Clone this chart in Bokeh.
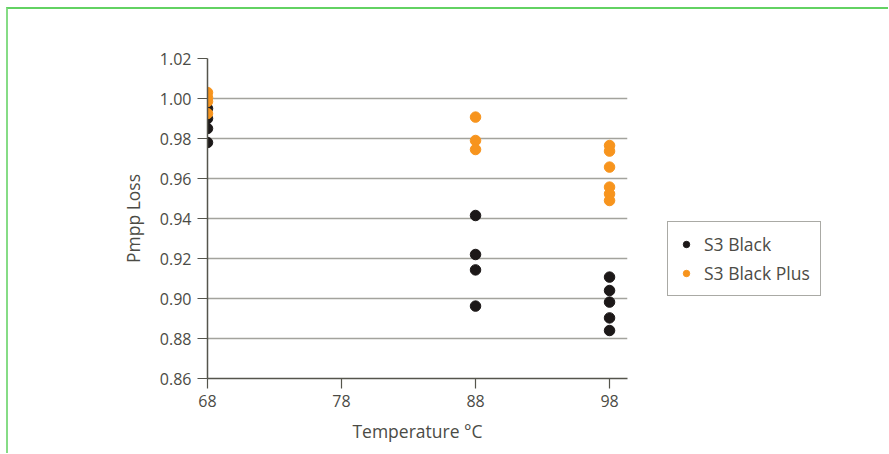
from bokeh.plotting import figure
from bokeh.layouts import row
from bokeh.models import Range1d, FixedTicker, PrintfTickFormatter, Legend, LegendItem
from bokeh.embed import file_html
from bokeh.resources import INLINE

# Data
x_ticks = [68, 78, 88, 98]
y_ticks = [0.86, 0.88, 0.90, 0.92, 0.94, 0.96, 0.98, 1.00, 1.02]

black_x = [68, 68, 68, 68, 88, 88, 88, 88, 98, 98, 98, 98, 98]
black_y = [0.995, 0.990, 0.985, 0.978, 0.9415, 0.922, 0.9143, 0.8962, 0.9107, 0.904, 0.8982, 0.8903, 0.884]

plus_x = [68, 68, 68, 68, 88, 88, 88, 98, 98, 98, 98, 98, 98]
plus_y = [1.003, 1.0005, 0.9985, 0.9925, 0.9907, 0.979, 0.9745, 0.9765, 0.9737, 0.9657, 0.9557, 0.9523, 0.949]

series_names = ["S3 Black", "S3 Black Plus"]
series_colors = ["#1c1818", "#f7941d"]

FONT = "Open Sans"
TXT = "#4b4b45"
AXIS = "#55554c"

p = figure(width=629, height=444, output_backend="svg", toolbar_location=None,
           x_range=Range1d(68, 99.34), y_range=Range1d(0.86, 1.02),
           min_border_left=199, min_border_top=49, min_border_right=10, min_border_bottom=75)
p.outline_line_color = None
p.background_fill_color = "white"

p.scatter(black_x, black_y, size=10.5, color=series_colors[0])
p.scatter(plus_x, plus_y, size=10.5, color=series_colors[1])

p.xaxis.ticker = FixedTicker(ticks=x_ticks)
p.yaxis.ticker = FixedTicker(ticks=y_ticks)
p.yaxis.formatter = PrintfTickFormatter(format="%.2f")
p.xgrid.visible = False
p.ygrid.grid_line_color = "#a3a39d"
p.ygrid.grid_line_width = 1.5

for ax in (p.xaxis, p.yaxis):
    ax.axis_line_color = AXIS
    ax.axis_line_width = 1.5
    ax.major_tick_line_color = AXIS
    ax.major_tick_line_width = 1.2
    ax.major_tick_out = 10
    ax.major_tick_in = 0
    ax.minor_tick_line_color = None
    ax.major_label_text_font = FONT
    ax.major_label_text_font_size = "16px"
    ax.major_label_text_color = TXT
    ax.axis_label_text_font = FONT
    ax.axis_label_text_font_size = "17.5px"
    ax.axis_label_text_color = TXT
    ax.axis_label_text_font_style = "normal"

p.xaxis.axis_label = "Temperature °C"
p.yaxis.axis_label = "Pmpp Loss"
p.xaxis.major_label_standoff = 6
p.yaxis.major_label_standoff = 6
p.xaxis.axis_label_standoff = 9
p.yaxis.axis_label_standoff = 12

# Legend panel to the right of the plot (proxy markers sit outside its view)
p2 = figure(width=251, height=444, output_backend="svg", toolbar_location=None,
            x_range=Range1d(0, 1), y_range=Range1d(0, 1), min_border=0)
p2.axis.visible = False
p2.grid.visible = False
p2.outline_line_color = None
k1 = p2.scatter(black_x[:1], black_y[:1], size=10.5, color=series_colors[0])
k2 = p2.scatter(plus_x[:1], plus_y[:1], size=10.5, color=series_colors[1])

legend = Legend(items=[LegendItem(label=series_names[0], renderers=[k1]),
                       LegendItem(label=series_names[1], renderers=[k2])],
                location=(30, 82))
legend.border_line_color = "#55554c"
legend.border_line_width = 1
legend.label_text_font = FONT
legend.label_text_font_size = "17.5px"
legend.label_text_color = TXT
legend.spacing = 5
legend.padding = 10
legend.margin = 0
legend.glyph_width = 16
legend.glyph_height = 20
legend.label_standoff = 10
p2.add_layout(legend, "center")

layout = row(p, p2, spacing=0)
layout.styles = {"border-top": "2px solid #62d262", "border-left": "2px solid #86dc86",
                 "margin-top": "7px", "margin-left": "6px"}

open("out.html", "w").write(file_html(layout, INLINE))
